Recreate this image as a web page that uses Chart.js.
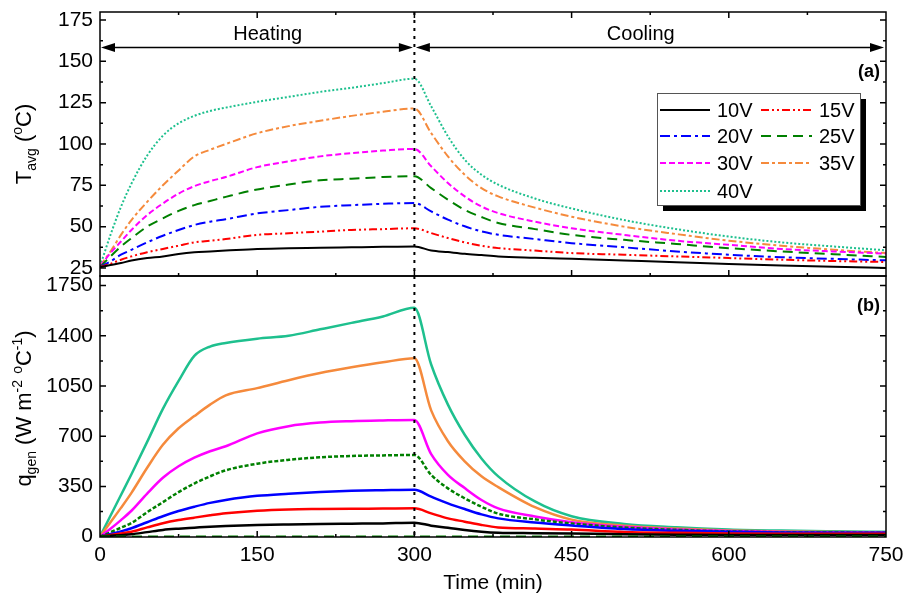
<!DOCTYPE html>
<html>
<head>
<meta charset="utf-8">
<script src="https://cdn.jsdelivr.net/npm/chart.js@4.4.0/dist/chart.umd.min.js"></script>
<style>
  html,body{margin:0;padding:0;background:#fff;}
  canvas{display:block;}
</style>
</head>
<body>
<canvas id="c" width="907" height="596"></canvas>
<script>
// ---------- DATA ----------
const times = [0,10,20,30,45,60,75,90,105,120,150,180,210,240,270,300,316,332,348,364,380,415,450,500,550,600,650,700,750];
const seriesNames = ['10V','15V','20V','25V','30V','35V','40V'];

// Average temperature (°C), panel (a)
const T10 = [25.5,26.8,28,29.5,31,32,33.5,34.5,35,35.5,36.5,37,37.2,37.5,37.8,38, 35.6,34.6,33.6,32.8,32, 31.2,30.5,29.5,28.5,27.4,26.5,25.7,25];
const T15 = [25.5,27.5,30,32,34.5,36.5,38.5,40.5,41.5,42.5,45,46,47,48,48.5,49, 46.1,43.1,40.5,38.4,37, 35.5,34,33,32,31,30,29.2,28.6];
const T20 = [25.5,29,33,36,40.5,44.5,48,51,53,54.5,58,60,62,63,63.8,64.3, 59.2,54.2,50.2,47.1,45.1, 42.5,40,37.5,35,33,31.5,30.5,29.6];
const T25 = [25.5,32,38,43,50,55,59.5,63,65.5,68,72.5,75.5,78,79,80,80.5, 73.3,66.3,60.2,55.8,52.2, 48.5,45,42,39.5,37,35,33.3,31.7];
const T30 = [26,34,41,48,57,64,70,74.5,77.5,80,86,89.5,92.5,94.5,96,97, 86.5,76.4,68.3,62.2,58.2, 53,49,45,41.5,39,36.5,35,33.7];
const T35 = [26,35,45,54,65,75,84,92.5,96.5,100,106.5,110.8,114,117,119.5,121.5, 106.6,92.5,81.4,73.3,68.3, 61.5,56,50,45.5,41.5,38.5,36,34];
const T40 = [26,45,62,76,93,105,112.5,117,120,122,125.5,128.5,131.5,134,136.8,139.5, 122.8,104.6,90.5,81.4,75.4, 67,61,54,48.5,44,40.5,38,35.7];

// Generated heat q_gen (W m^-2 °C^-1), panel (b)
const Q10 = [0,5,10,16,31,46,55,62,69,74,81,85,88,90,92,97, 76,62,46,34,27, 24,21,16,13,11,11,11,11];
const Q15 = [0,11,22,34,64,93,115,132,148,162,180,189,192,194,195,197, 162,127,104,81,64, 56,49,32,26,22,20,19,19];
const Q20 = [0,18,36,58,100,142,178,208,235,255,284,299,311,319,323,326, 278,232,192,155,127, 98,77,52,40,33,29,27,26];
const Q25 = [0,30,62,95,170,240,310,370,420,462,508,535,553,562,566,569, 430,336,267,208,160, 120,91,63,47,36,30,28,26];
const Q30 = [0,55,115,180,300,410,490,550,595,630,720,770,795,805,810,813, 575,430,338,255,197, 140,100,68,50,38,32,30,28];
const Q35 = [0,100,200,305,480,640,755,840,920,985,1035,1090,1140,1180,1215,1243, 880,665,525,420,345, 205,118,76,56,43,36,32,30];
const Q40 = [0,145,290,435,660,890,1085,1260,1325,1350,1380,1400,1445,1490,1535,1595, 1200,920,710,545,420, 245,142,88,65,50,42,37,33];
const zeroTimes = [0,750];
const zeroVals = [0,0];

// Tick labels
const xTicks = [0,150,300,450,600,750];
const tTicks = [25,50,75,100,125,150,175];
const qTicks = [0,350,700,1050,1400,1750];

// ---------- STYLES ----------
const colors = ['#000000','#FF0000','#0000FF','#008000','#FF00FF','#F58A3C','#1EC08E'];
const topDash = [[],[8,3,2,3,2,3],[10,4,3,4],[10,6],[6,3],[8,3,3,3],[2,2]];
const FONT = "'Liberation Sans', Arial, sans-serif";

const pts = (xs, ys) => xs.map((t,i)=>({x:t,y:ys[i]}));
const Tser = [T10,T15,T20,T25,T30,T35,T40];
const Qser = [Q10,Q15,Q20,Q25,Q30,Q35,Q40];

const datasets = [];
datasets.push({label:'zero', data:pts(zeroTimes,zeroVals), yAxisID:'yQ', borderColor:'#008000', borderWidth:2, borderDash:[10,6], pointRadius:0, fill:false});
Qser.forEach((arr,i)=>{
  datasets.push({label:seriesNames[i]+' q', data:pts(times,arr), yAxisID:'yQ',
    borderColor:colors[i], borderWidth:2.5, borderDash: i===3?[4,2]:[], pointRadius:0, fill:false,
    cubicInterpolationMode:'monotone'});
});
Tser.forEach((arr,i)=>{
  datasets.push({label:seriesNames[i], data:pts(times,arr), yAxisID:'yT',
    borderColor:colors[i], borderWidth:2, borderDash:topDash[i], pointRadius:0, fill:false,
    cubicInterpolationMode:'monotone'});
});

function setTicks(arr){ return function(scale){ scale.ticks = arr.map(v=>({value:v})); }; }
function mids(arr){ const m=[]; for(let i=0;i<arr.length-1;i++) m.push((arr[i]+arr[i+1])/2); return m; }

const decor = {
  id:'decor',
  afterDatasetsDraw(chart){
    const ctx = chart.ctx;
    const xs = chart.scales.x, yT = chart.scales.yT, yQ = chart.scales.yQ;
    const L = chart.chartArea.left, R = chart.chartArea.right;
    ctx.save();
    // vertical dotted line at end of heating
    const x300 = xs.getPixelForValue(300);
    ctx.strokeStyle = '#000'; ctx.lineWidth = 2; ctx.setLineDash([3,5]);
    ctx.beginPath(); ctx.moveTo(x300, yT.top); ctx.lineTo(x300, yQ.bottom); ctx.stroke();
    ctx.setLineDash([]);
    // frames
    ctx.lineWidth = 1.5;
    [yT,yQ].forEach(s=>{ ctx.strokeRect(L, s.top, R-L, s.bottom-s.top); });
    // y ticks (inward, both sides)
    const yTick = (s, vals, len)=>{
      vals.forEach(v=>{
        const p = s.getPixelForValue(v);
        if (p < s.top+1 || p > s.bottom-1) return;
        ctx.beginPath(); ctx.moveTo(L,p); ctx.lineTo(L+len,p); ctx.moveTo(R,p); ctx.lineTo(R-len,p); ctx.stroke();
      });
    };
    yTick(yT, tTicks, 6); yTick(yT, mids(tTicks), 3);
    yTick(yQ, qTicks, 6); yTick(yQ, mids(qTicks), 3);
    // x ticks
    const xTick = (vals, len)=>{
      vals.forEach(v=>{
        const p = xs.getPixelForValue(v);
        if (p < L+1 || p > R-1) return;
        ctx.beginPath();
        ctx.moveTo(p, yT.top); ctx.lineTo(p, yT.top+len);
        ctx.moveTo(p, yT.bottom); ctx.lineTo(p, yT.bottom-len);
        ctx.moveTo(p, yQ.bottom); ctx.lineTo(p, yQ.bottom-len);
        ctx.stroke();
      });
    };
    xTick(xTicks, 6); xTick(mids(xTicks), 3);

    // arrows
    const ay = yT.getPixelForValue(158.3);
    const arrow = (x1,x2)=>{
      ctx.lineWidth = 1.5;
      ctx.beginPath(); ctx.moveTo(x1+6,ay); ctx.lineTo(x2-6,ay); ctx.stroke();
      ctx.beginPath(); ctx.moveTo(x1,ay); ctx.lineTo(x1+14,ay-4.5); ctx.lineTo(x1+14,ay+4.5); ctx.closePath(); ctx.fill();
      ctx.beginPath(); ctx.moveTo(x2,ay); ctx.lineTo(x2-14,ay-4.5); ctx.lineTo(x2-14,ay+4.5); ctx.closePath(); ctx.fill();
    };
    ctx.fillStyle = '#000';
    arrow(L+1, x300-1.5);
    arrow(x300+1.5, R-2);
    ctx.font = '20px '+FONT; ctx.textAlign='center'; ctx.textBaseline='middle';
    ctx.fillText('Heating', xs.getPixelForValue(160), yT.getPixelForValue(166.2));
    ctx.fillText('Cooling', xs.getPixelForValue(516), yT.getPixelForValue(166.2));
    // panel labels
    ctx.font = 'bold 18px '+FONT; ctx.textAlign='right';
    ctx.fillText('(a)', R-6, yT.top+60);
    ctx.fillText('(b)', R-6, yQ.top+30);

    // legend
    const bx=657, by=93, bw=203, bh=112;
    ctx.fillStyle='#000'; ctx.fillRect(bx+6, by+6, bw, bh);
    ctx.fillStyle='#fff'; ctx.fillRect(bx, by, bw, bh);
    ctx.strokeStyle='#555'; ctx.lineWidth=1; ctx.strokeRect(bx+0.5, by+0.5, bw, bh);
    const rows=[110,136,163,191];
    const cols=[[660,710,717],[761,812,819]];
    ctx.font = '20px '+FONT; ctx.textAlign='left'; ctx.textBaseline='middle';
    seriesNames.forEach((n,i)=>{
      const r = rows[Math.floor(i/2)], c = cols[i%2];
      ctx.strokeStyle = colors[i]; ctx.lineWidth = 2; ctx.setLineDash(topDash[i]);
      ctx.beginPath(); ctx.moveTo(c[0], r); ctx.lineTo(c[1], r); ctx.stroke();
      ctx.setLineDash([]);
      ctx.fillStyle='#000'; ctx.fillText(n, c[2], r+1);
    });

    // axis titles (rotated, with sub/superscripts)
    const drawRich = (parts, cx, cy)=>{
      ctx.save();
      ctx.translate(cx, cy); ctx.rotate(-Math.PI/2);
      ctx.textAlign='left'; ctx.textBaseline='alphabetic'; ctx.fillStyle='#000';
      let w=0;
      parts.forEach(p=>{ ctx.font = p.size+'px '+FONT; w += ctx.measureText(p.t).width; });
      let x=-w/2;
      parts.forEach(p=>{ ctx.font = p.size+'px '+FONT; ctx.fillText(p.t, x, p.dy||0); x += ctx.measureText(p.t).width; });
      ctx.restore();
    };
    drawRich([{t:'T',size:22},{t:'avg',size:14,dy:5},{t:' (',size:22},{t:'o',size:14,dy:-9},{t:'C)',size:22}], 31, (yT.top+yT.bottom)/2);
    drawRich([{t:'q',size:22},{t:'gen',size:14,dy:5},{t:' (W m',size:22},{t:'-2',size:14,dy:-9},{t:' ',size:22},{t:'o',size:14,dy:-9},{t:'C',size:22},{t:'-1',size:14,dy:-9},{t:')',size:22}], 31, (yQ.top+yQ.bottom)/2+2);
    ctx.restore();
  }
};

const fmt = (v)=>String(v);
new Chart(document.getElementById('c'), {
  type:'line',
  data:{datasets},
  options:{
    responsive:false, animation:false, parsing:true,
    layout:{padding:{top:12,right:21,left:0,bottom:0}},
    plugins:{legend:{display:false}, tooltip:{enabled:false}},
    elements:{point:{radius:0}},
    scales:{
      x:{type:'linear', min:0, max:750, position:'bottom',
        grid:{display:false, drawTicks:false}, border:{display:false},
        afterBuildTicks:setTicks(xTicks),
        afterFit:(s)=>{ s.height = 59; s.paddingLeft = 0; s.paddingRight = 0; },
        ticks:{color:'#000', font:{family:FONT,size:21}, padding:6, autoSkip:false, maxRotation:0, callback:fmt},
        title:{display:true, text:'Time (min)', color:'#000', font:{family:FONT,size:21}, padding:{top:0,bottom:0}}
      },
      yQ:{type:'linear', min:-3, max:1817, position:'left', stack:'v', stackWeight:261,
        grid:{display:false, drawTicks:false}, border:{display:false},
        afterBuildTicks:setTicks(qTicks),
        afterFit:(s)=>{ s.width = 100; s.paddingTop = 0; s.paddingBottom = 0; },
        ticks:{color:'#000', font:{family:FONT,size:21}, padding:7, autoSkip:false, callback:fmt}
      },
      yT:{type:'linear', min:20.14, max:179.84, position:'left', stack:'v', stackWeight:264,
        grid:{display:false, drawTicks:false}, border:{display:false},
        afterBuildTicks:setTicks(tTicks),
        afterFit:(s)=>{ s.width = 100; s.paddingTop = 0; s.paddingBottom = 0; },
        ticks:{color:'#000', font:{family:FONT,size:21}, padding:7, autoSkip:false, callback:fmt}
      }
    }
  },
  plugins:[decor]
});
</script>
</body>
</html>
